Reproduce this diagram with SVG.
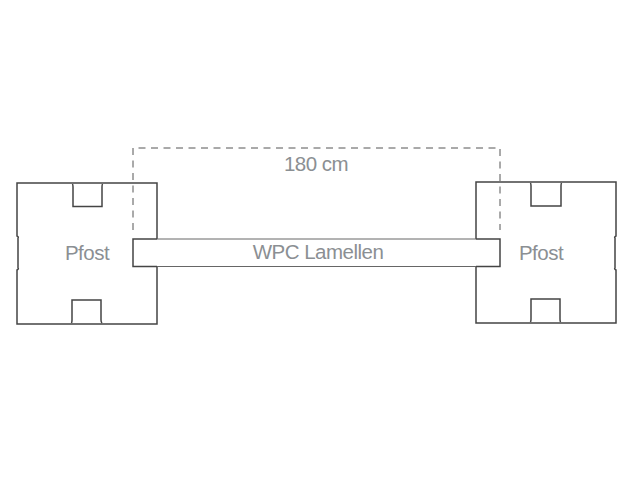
<svg xmlns="http://www.w3.org/2000/svg" width="640" height="480" viewBox="0 0 640 480">
<style>
.post{fill:none;stroke:#444;stroke-width:1.5;stroke-linejoin:miter}
.thin{fill:none;stroke:#666;stroke-width:1}
.dash{fill:none;stroke:#555;stroke-width:1;stroke-dasharray:7 5.5}
text{font-family:"Liberation Sans",Arial,sans-serif;font-size:20.500px;fill:#8b8f93;text-anchor:middle;letter-spacing:-.5px}
</style>
<rect width="640" height="480" fill="#fff"/>
<g id="post-left">
<path class="post" d="M157 239V183H17V236Q19 237 18 238V268Q19 269 17 270V324H157V267"/>
<path class="post" d="M72.500 184Q73 185 73 187V206.500H102V187Q102 185 102.500 184M71.500 323Q72 322 72 320V300H101V320Q101 322 102 323"/>
<text x="87" y="260">Pfost</text>
</g>
<g id="post-right">
<path class="post" d="M476 239V182H616V236Q614 237 615 238V268Q614 269 616 270V323H476V267"/>
<path class="post" d="M530.500 183Q531 184 531 186V206H561V186Q561 184 561.500 183M530.500 322Q531 321 531 319V299H560V319Q560 321 560.500 322"/>
<text x="541" y="260">Pfost</text>
</g>
<g id="lamellen">
<path class="post" d="M157 239H133V266.500H157M476 239H500V266.500H476"/>
<path class="thin" d="M157 239H476M157 266.500H476"/>
<text x="318" y="259">WPC Lamellen</text>
</g>
<g id="connectors">
<path class="dash" d="M133 230V148H500V230"/>
</g>
<text id="dimension" x="316" y="171">180 cm</text>
</svg>
